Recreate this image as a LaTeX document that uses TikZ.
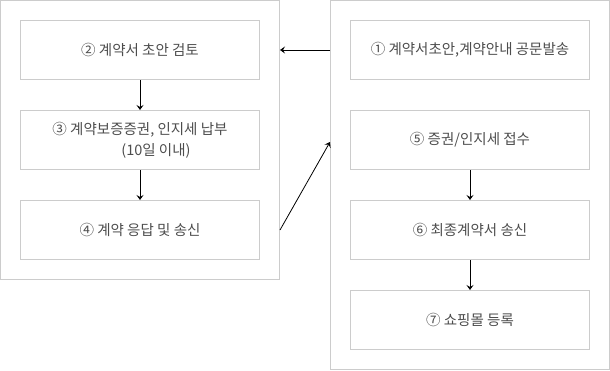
\documentclass[tikz,border=0pt]{standalone}
\usepackage{fontspec}
\setmainfont{Noto Sans CJK KR}
\usetikzlibrary{arrows.meta}
\definecolor{bordergray}{HTML}{CCCCCC}
\definecolor{textgray}{HTML}{4D4D4D}
\begin{document}
\begin{tikzpicture}[x=1pt,y=-1pt,
  outer/.style={draw=bordergray, line width=1pt, inner sep=0pt},
  stepbox/.style={draw=bordergray, line width=1pt, minimum width=239pt, minimum height=59pt, inner sep=0pt, text=textgray, font=\fontsize{14.5}{21}\selectfont, align=center},
  arr/.style={-{Stealth[length=5pt,width=7pt,inset=2pt]}, line width=0.8pt}]
\useasboundingbox (0,0) rectangle (610,370);
\node[outer, minimum width=279pt, minimum height=279pt] (L) at (140,140) {};
\node[outer, minimum width=279pt, minimum height=368.5pt] (R) at (470,184.75) {};
\node[stepbox] (b2) at (140,50) {② 계약서 초안 검토};
\node[stepbox] (b3) at (140,140) {③ 계약보증증권, 인지세 납부\\\hspace*{32pt}(10일 이내)};
\node[stepbox] (b4) at (140,230) {④ 계약 응답 및 송신};
\node[stepbox] (b1) at (470,50) {① 계약서초안,계약안내 공문발송};
\node[stepbox] (b5) at (470,140) {⑤ 증권/인지세 접수};
\node[stepbox] (b6) at (470,230) {⑥ 최종계약서 송신};
\node[stepbox] (b7) at (470,320) {⑦ 쇼핑몰 등록};
\draw[arr] (b1 -| R.west) -- (b2 -| L.east);
\draw[arr] (b2.south) -- (b3.north);
\draw[arr] (b3.south) -- (b4.north);
\draw[arr] (b4 -| L.east) -- ([yshift=-2pt]b5 -| R.west);
\draw[arr] (b5.south) -- (b6.north);
\draw[arr] (b6.south) -- (b7.north);
\end{tikzpicture}
\end{document}
